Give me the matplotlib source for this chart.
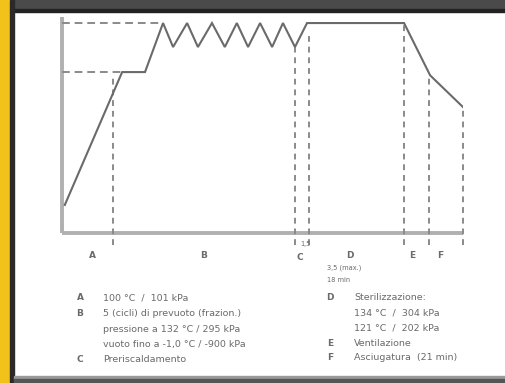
import matplotlib
matplotlib.use("Agg")
import matplotlib.pyplot as plt
from matplotlib.patches import Rectangle

# ---- data (time in % of cycle, pressure in % of max) ----
curve_time = [0.7, 15.0, 20.7, 25.2, 27.7, 31.2, 33.9, 37.4, 40.6, 43.6, 46.4,
              49.4, 52.4, 55.1, 58.1, 61.1, 85.3, 91.8, 100.0]
curve_pressure = [13.0, 74.5, 74.5, 97.2, 86.1, 97.2, 86.1, 97.2, 86.1, 97.2, 86.1,
                  97.2, 86.1, 97.2, 86.1, 97.2, 97.2, 73.0, 58.3]
phase_bounds = [12.7, 58.1, 61.6, 85.3, 91.5, 100.0]
phase_top = [72.0, 86.1, 93.0, 97.2, 73.5, 58.3]
ref_levels = [97.2, 74.5]
ref_ends = [25.2, 15.0]
phase_letters = ["A", "B", "C", "D", "E", "F"]
phase_letter_x = [7.7, 35.2, 59.4, 71.8, 87.3, 94.3]
legend_left = [("A", ["100 °C  /  101 kPa"]),
               ("B", ["5 (cicli) di prevuoto (frazion.)",
                      "pressione a 132 °C / 295 kPa",
                      "vuoto fino a -1,0 °C / -900 kPa"]),
               ("C", ["Preriscaldamento"])]
legend_right = [("D", ["Sterilizzazione:",
                       "134 °C  /  304 kPa",
                       "121 °C  /  202 kPa"]),
                ("E", ["Ventilazione"]),
                ("F", ["Asciugatura  (21 min)"])]

W, H = 505, 383
fig = plt.figure(figsize=(W / 100, H / 100), dpi=100)
fig.patch.set_facecolor("white")

# frame decorations (figure pixel coords)
bg = fig.add_axes([0, 0, 1, 1])
bg.set_xlim(0, W)
bg.set_ylim(H, 0)
bg.axis("off")
bg.add_patch(Rectangle((0, 0), W, 9, color="#4a4a4a"))
bg.add_patch(Rectangle((0, 9), W, 3, color="#222222"))
bg.add_patch(Rectangle((0, 0), 10, H, color="#f2c21a"))
bg.add_patch(Rectangle((10, 0), 4, H, color="#2a2a2a"))
bg.add_patch(Rectangle((14, 376), W - 14, 3, color="#9a9a9a"))
bg.add_patch(Rectangle((14, 379), W - 14, 4, color="#555555"))

# plot axes: x 0..100 -> px 62..463 ; y 0 at px 233, 100 at px 17
scale = (233 - 17) / 100.0
ymin = -8.0
bottom_px = 233 + (-ymin) * scale
ax = fig.add_axes([62 / W, 1 - bottom_px / H, (463 - 62) / W, (bottom_px - 17) / H])
ax.set_xlim(0, 100)
ax.set_ylim(ymin, 100)
ax.axis("off")

axis_col = "#b0b0b0"
ax.plot([0, 0], [0, 100], color=axis_col, lw=2.8, clip_on=False, solid_capstyle="butt")
ax.plot([0, 100], [0, 0], color=axis_col, lw=2.8, clip_on=False, solid_capstyle="butt")

for lvl, end in zip(ref_levels, ref_ends):
    ax.plot([0, end], [lvl, lvl], color="#8a8a8a", lw=1.4, ls=(0, (4, 2.5)))

for xb, yt in zip(phase_bounds, phase_top):
    ax.plot([xb, xb], [-5.5, yt], color="#8a8a8a", lw=1.4, ls=(0, (3, 2.5)), clip_on=False)

ax.plot(curve_time, curve_pressure, color="#6a6a6a", lw=1.5, solid_joinstyle="miter")

txt_col = "#6a6a6a"
fs = 6.8
for lab, lx in zip(phase_letters, phase_letter_x):
    yy = -10.5 if lab != "C" else -11.5
    ax.text(lx, yy, lab, color=txt_col, fontsize=6.5, ha="center", va="center",
            clip_on=False, fontweight="bold")
ax.text(60.8, -5.2, "1,5", color=txt_col, fontsize=4.8, ha="center", va="center", clip_on=False)

bg.text(327, 268, "3,5 (max.)", color=txt_col, fontsize=4.8, va="center")
bg.text(327, 280, "18 min", color=txt_col, fontsize=4.8, va="center")

def draw_legend(items, xl, xt, y0, dy):
    y = y0
    for letter, lines in items:
        bg.text(xl, y, letter, color=txt_col, fontsize=6.5, va="center", ha="center",
                fontweight="bold")
        for ln in lines:
            bg.text(xt, y, ln, color=txt_col, fontsize=fs, va="center")
            y += dy

draw_legend(legend_left, 80, 103, 298, 15.5)
draw_legend(legend_right, 330, 354, 298, 15)

fig.savefig("out.png", dpi=100, facecolor="white")
